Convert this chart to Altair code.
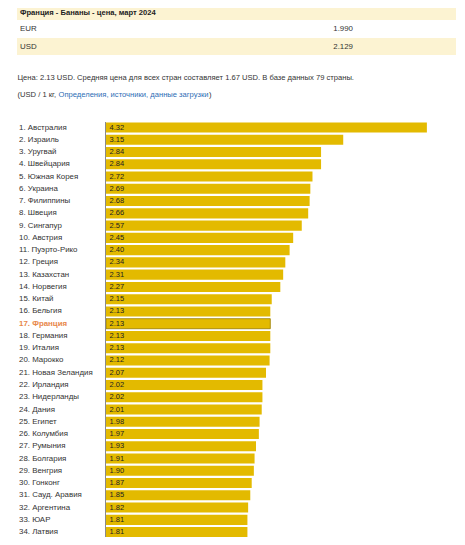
import altair as alt
import pandas as pd

countries = ["Австралия", "Израиль", "Уругвай", "Швейцария", "Южная Корея", "Украина",
             "Филиппины", "Швеция", "Сингапур", "Австрия", "Пуэрто-Рико", "Греция",
             "Казахстан", "Норвегия", "Китай", "Бельгия", "Франция", "Германия",
             "Италия", "Марокко", "Новая Зеландия", "Ирландия", "Нидерланды", "Дания",
             "Египет", "Колумбия", "Румыния", "Болгария", "Венгрия", "Гонконг",
             "Сауд. Аравия", "Аргентина", "ЮАР", "Латвия", "Словакия"]
prices = [4.32, 3.15, 2.84, 2.84, 2.72, 2.69, 2.68, 2.66, 2.57, 2.45, 2.40, 2.34,
          2.31, 2.27, 2.15, 2.13, 2.13, 2.13, 2.13, 2.12, 2.07, 2.02, 2.02, 2.01,
          1.98, 1.97, 1.93, 1.91, 1.90, 1.87, 1.85, 1.82, 1.81, 1.81, 1.81]
highlight = "Франция"

table_title = "Франция - Бананы - цена, март 2024"
currencies = ["EUR", "USD"]
currency_values = ["1.990", "2.129"]
summary = "Цена: 2.13 USD. Средняя цена для всех стран составляет 1.67 USD. В базе данных 79 страны."
unit_text = "(USD / 1 кг, "
link_text = "Определения, источники, данные загрузки"
close_text = ")"

FONT = "Liberation Sans"
BAR = "#e3ba00"
AXIS_START = -0.168

labels = [f"{i + 1}. {c}" for i, c in enumerate(countries)]
df = pd.DataFrame({
    "label": labels,
    "country": countries,
    "price": prices,
    "hl": [c == highlight for c in countries],
})

n = len(countries)
step = 12.26
y0 = 113.4
yscale = alt.Scale(domain=labels, range=[y0, y0 + n * step], paddingInner=0.18, paddingOuter=0.09)
xscale = alt.Scale(domain=[AXIS_START, 4.5], range=[98, 431.75], nice=False, zero=False)

base = alt.Chart(df)
Y = alt.Y("label:N", scale=yscale, axis=None, sort=labels)

bars = base.mark_bar(color=BAR).encode(
    y=Y,
    x=alt.X("price:Q", scale=xscale, axis=None),
    x2=alt.datum(AXIS_START),
    stroke=alt.condition("datum.hl", alt.value("#9a7d00"), alt.value(None)),
    strokeWidth=alt.value(0.8),
)

vals = base.mark_text(align="left", baseline="middle", font=FONT, fontSize=7.5, color="#222").encode(
    y=Y,
    x=alt.value(101.5),
    text=alt.Text("price:Q", format=".2f"),
)

names = base.transform_filter("!datum.hl").mark_text(
    align="left", baseline="middle", font=FONT, fontSize=7.9, color="#333333"
).encode(y=Y, x=alt.value(11), text="label:N")

names_hl = base.transform_filter("datum.hl").mark_text(
    align="left", baseline="middle", font=FONT, fontSize=7.9, color="#e8884a", fontWeight="bold"
).encode(y=Y, x=alt.value(11), text="label:N")

axis_line = base.mark_rule(color="#8a8a8a", strokeWidth=1).encode(
    x=alt.value(97.5),
    y=alt.value(y0 + 1),
    y2=alt.value(540),
)

# header table
hdr_df = pd.DataFrame({"r": ["title", "usd"], "y": [0, 30], "y2": [12, 47]})
hdr_bg = alt.Chart(hdr_df).mark_rect(color="#fcf3d2").encode(
    x=alt.value(9), x2=alt.value(448),
    y=alt.Y("y:Q", scale=None), y2="y2:Q",
)

def txt(s, x, y, size=7.7, weight="normal", color="#333333", align="left"):
    return alt.Chart(pd.DataFrame({"t": [s]})).mark_text(
        align=align, baseline="middle", font=FONT, fontSize=size, fontWeight=weight, color=color
    ).encode(text="t:N", x=alt.value(x), y=alt.value(y))

texts = [
    txt(table_title, 12, 5, size=7.6, weight="bold", color="#222"),
    txt(currencies[0], 12, 21, size=7.9),
    txt(currency_values[0], 345, 21, size=7.9, align="right"),
    txt(currencies[1], 12, 39, size=7.9),
    txt(currency_values[1], 345, 39, size=7.9, align="right"),
    txt(summary, 9.5, 70, size=7.6),
    txt(unit_text, 9.5, 87, size=7.6),
    txt(link_text, 50.5, 87, size=7.6, color="#2d6db5"),
    txt(close_text, 201, 87, size=7.6),
]

chart = alt.layer(hdr_bg, *texts, bars, axis_line, vals, names, names_hl).properties(
    width=449, height=529, padding=0,
    autosize=alt.AutoSizeParams(type="none"),
).configure_view(stroke=None)

chart.save("out.html", embed_options={"renderer": "svg", "actions": False})
